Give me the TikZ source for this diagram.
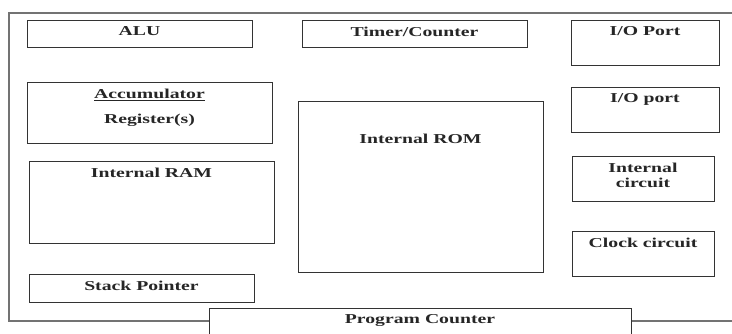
\documentclass[tikz,border=0pt]{standalone}
\usepackage{fontspec}
\setmainfont{Liberation Serif}
% wide lettering used for all block names
\newcommand\wtext[1]{\scalebox{1.45}[1]{#1}}
\begin{document}
\begin{tikzpicture}[x=1pt,y=-1pt,
  box/.style={draw=black!80, line width=1pt, fill=white, inner sep=0pt},
  frame/.style={draw=black!55, line width=1.2pt},
  lbl/.style={font=\bfseries\fontsize{13.6}{15}\selectfont, inner sep=0pt, align=center, text=black!85}]
\clip (0,0) rectangle (732,334);
\fill[white] (0,0) rectangle (732,334);

% outer chip boundary
\draw[frame] (732,13) -| (9,321) -- (732,321);

% left column
\node[box, minimum width=225pt, minimum height=27pt,
  label={[lbl,anchor=north,yshift=-6pt]north:\wtext{ALU}}] (alu) at (139.5,34.5) {};
\node[box, minimum width=245pt, minimum height=61pt,
  label={[lbl,anchor=north,yshift=-6pt]north:\wtext{\underline{Accumulator}}\\[10pt]\wtext{Register(s)}}] (acc) at (149.5,113.5) {};
\node[box, minimum width=245pt, minimum height=82pt,
  label={[lbl,anchor=north,yshift=-6pt]north:\wtext{Internal RAM}}] (ram) at (151.5,203) {};
\node[box, minimum width=225pt, minimum height=28pt,
  label={[lbl,anchor=north,yshift=-6pt]north:\wtext{Stack Pointer}}] (sp) at (141.5,289) {};

% middle column
\node[box, minimum width=225pt, minimum height=27pt,
  label={[lbl,anchor=north,yshift=-6pt]north:\wtext{Timer/Counter}}] (tc) at (414.5,34.5) {};
\node[box, minimum width=245pt, minimum height=171pt,
  label={[lbl,anchor=north,yshift=-32pt]north:\wtext{Internal ROM}}] (rom) at (420.5,187.5) {};

% right column
\node[box, minimum width=148pt, minimum height=45pt,
  label={[lbl,anchor=north,yshift=-6pt]north:\wtext{I/O Port}}] (io1) at (645,43.5) {};
\node[box, minimum width=148pt, minimum height=45pt,
  label={[lbl,anchor=north,yshift=-6pt]north:\wtext{I/O port}}] (io2) at (645,110.5) {};
\node[box, minimum width=142pt, minimum height=45pt,
  label={[lbl,anchor=north,yshift=-6pt]north:\wtext{Internal}\\\wtext{circuit}}] (ic) at (643,179.5) {};
\node[box, minimum width=142pt, minimum height=45pt,
  label={[lbl,anchor=north,yshift=-6pt]north:\wtext{Clock circuit}}] (clk) at (643,254.5) {};

% program counter straddling the bottom edge
\node[box, minimum width=422pt, minimum height=27pt,
  label={[lbl,anchor=north,yshift=-6pt]north:\wtext{Program Counter}}] (pc) at (420,322.5) {};
\end{tikzpicture}
\end{document}
